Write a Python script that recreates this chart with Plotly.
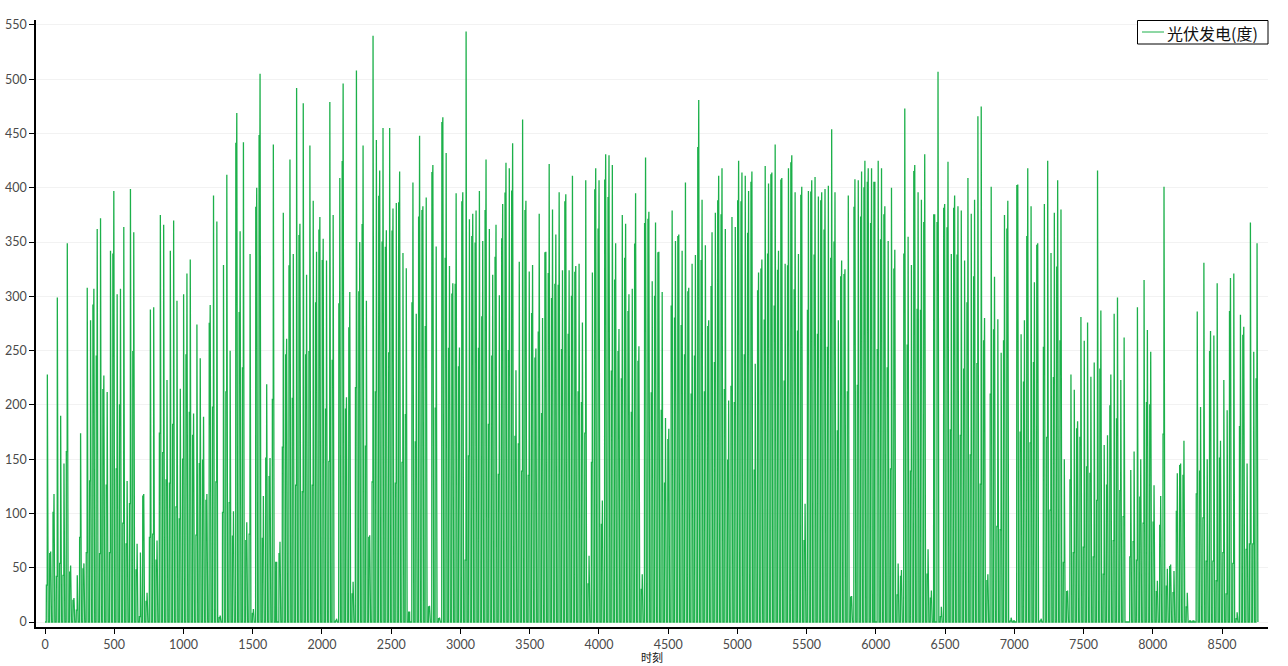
import numpy as np
import plotly.graph_objects as go

series_name = "光伏发电(度)"
x_title = "时刻"
hours_per_day = 24

daily_peak = [
228,65,118,299,190,146,349,52,22,43,174,54,308,278,307,362,372,227,212,342,397,302,307,364,130,399,359,72,64,118,27,288,290,75,375,366,223,342,370,296,215,302,321,334,192,274,243,189,118,292,393,369,6,329,412,250,102,469,360,442,92,339,12,400,505,116,219,151,440,55,74,377,261,426,339,492,367,478,320,439,388,341,373,353,333,479,375,3,409,
496,207,304,37,508,350,439,296,80,540,444,416,455,361,455,381,386,415,340,326,9,405,284,448,383,391,15,421,346,4,465,432,328,312,395,253,396,544,371,376,379,397,351,426,362,320,366,301,385,423,418,441,232,332,463,388,323,329,252,376,280,341,422,380,357,396,324,394,324,411,328,330,276,407,61,322,418,407,112,431,430,421,349,270,375,367,302,307,395,254,
44,428,378,314,368,341,304,188,178,379,351,357,342,405,308,330,338,481,389,347,278,359,377,411,418,362,204,373,364,425,414,411,397,415,238,322,334,420,404,414,440,342,409,330,418,430,396,339,401,109,397,407,410,392,396,399,402,454,396,278,333,325,393,24,408,407,415,425,418,418,405,425,418,383,351,400,343,54,48,473,355,329,421,396,389,431,67,29,375,507,14,
385,424,339,393,383,379,333,409,376,389,466,475,280,44,401,318,279,248,375,388,4,1,403,265,278,418,383,313,349,3,385,425,340,377,407,380,150,29,228,214,185,281,259,276,226,239,416,287,163,172,228,284,299,223,262,0,140,157,290,150,315,269,249,126,38,116,401,49,53,47,137,146,167,27,1,1,286,198,331,150,268,264,312,167,223,195,317,321,9,283,272,146,368,249,349,
]
daily_second = [
34,63,101,42,54,43,157,46,20,11,78,49,64,130,292,245,63,214,126,64,339,141,200,91,72,109,249,48,5,116,19,78,81,57,174,156,131,128,182,106,95,150,246,193,172,80,146,149,112,275,198,129,4,101,212,110,79,441,285,234,75,81,8,382,448,77,151,134,205,55,63,161,246,328,206,126,356,120,246,249,126,294,361,333,196,148,241,1,293,
424,196,271,26,216,304,366,162,78,129,212,392,350,345,248,360,128,386,147,191,9,294,166,373,379,272,14,414,197,3,460,335,252,302,311,235,387,57,153,355,349,252,281,379,182,245,336,136,353,395,250,397,171,164,139,379,135,284,243,267,192,340,321,298,311,310,251,387,265,300,322,212,202,174,35,147,398,362,90,407,391,231,315,249,224,335,286,193,348,240,
30,367,371,211,300,340,195,128,168,291,280,355,273,246,304,210,245,437,333,212,272,309,239,388,375,214,149,217,202,388,387,246,358,405,140,305,325,278,339,412,291,324,407,222,328,423,306,268,393,75,287,396,338,265,388,361,253,335,350,176,318,320,212,23,382,218,373,400,405,367,405,251,352,375,234,141,325,25,42,339,255,139,415,288,287,368,44,22,375,368,5,
381,363,177,381,338,172,233,294,154,318,238,127,259,38,210,269,88,85,259,362,1,1,402,175,221,355,165,239,347,1,253,170,103,225,327,259,55,28,131,64,178,170,69,143,137,60,112,233,44,126,199,75,187,121,97,0,60,74,57,115,91,202,200,92,28,89,173,33,51,27,102,144,135,14,1,1,118,139,96,56,249,56,38,151,64,26,286,54,3,180,264,67,72,72,224,
]
x_tick_values = [0,500,1000,1500,2000,2500,3000,3500,4000,4500,5000,5500,6000,6500,7000,7500,8000,8500]
y_tick_values = [0,50,100,150,200,250,300,350,400,450,500,550]

n_days = min(len(daily_peak), len(daily_second))
hourly = np.zeros(n_days * hours_per_day)
for day in range(n_days):
    start = day * hours_per_day
    hourly[start + 10:start + 17] = daily_second[day]
    hourly[start + 17] = daily_peak[day]
hour_index = np.arange(hourly.size)

GREEN = "#1cb04a"
fig = go.Figure(go.Scatter(x=hour_index, y=hourly, mode="lines", name=series_name,
                           line=dict(color=GREEN, width=1.3), showlegend=False))

axis_font = dict(family="Lato, 'Noto Sans', sans-serif", size=12.5, color="#4a4a4a")
plot_w, plot_h = 1232, 607
def px(x): return (x - 36) / plot_w
def py(y): return (627 - y) / plot_h

fig.update_layout(
    width=1288, height=666, autosize=False,
    margin=dict(l=36, r=20, t=20, b=39),
    paper_bgcolor="white", plot_bgcolor="white",
    showlegend=False,
    shapes=[
        dict(type="rect", xref="paper", yref="paper", x0=px(1137.5), x1=px(1268), y0=py(44), y1=py(20.5),
             line=dict(color="black", width=1), fillcolor="white", layer="above"),
        dict(type="line", xref="paper", yref="paper", x0=px(1142), x1=px(1164), y0=py(32), y1=py(32),
             line=dict(color=GREEN, width=1), layer="above"),
    ],
    annotations=[
        dict(text=series_name, xref="paper", yref="paper", x=px(1165), y=py(33), xanchor="left", yanchor="middle",
             showarrow=False, font=dict(family="'Noto Sans CJK SC'", size=16, color="#111111")),
        dict(text=x_title, xref="paper", yref="paper", x=px(652), y=py(656.5), xanchor="center", yanchor="middle",
             showarrow=False, font=dict(family="'Noto Sans CJK SC'", size=11, color="#111111")),
    ],
    xaxis=dict(range=[-65, 8832], tickvals=x_tick_values, ticks="outside", ticklen=5, tickcolor="black",
               showgrid=False, zeroline=False, showline=True, linecolor="black", linewidth=1.5,
               tickfont=axis_font, automargin=False),
    yaxis=dict(range=[-4.6, 554.6], tickvals=y_tick_values, ticks="outside", ticklen=5, tickcolor="black",
               showgrid=True, gridcolor="#f2f2f2", gridwidth=1, zeroline=False, automargin=False,
               showline=True, linecolor="black", linewidth=1.5, tickfont=axis_font),
)
fig.write_html("out.html", config={"displayModeBar": False},
               post_script="document.body.style.margin='0';")
